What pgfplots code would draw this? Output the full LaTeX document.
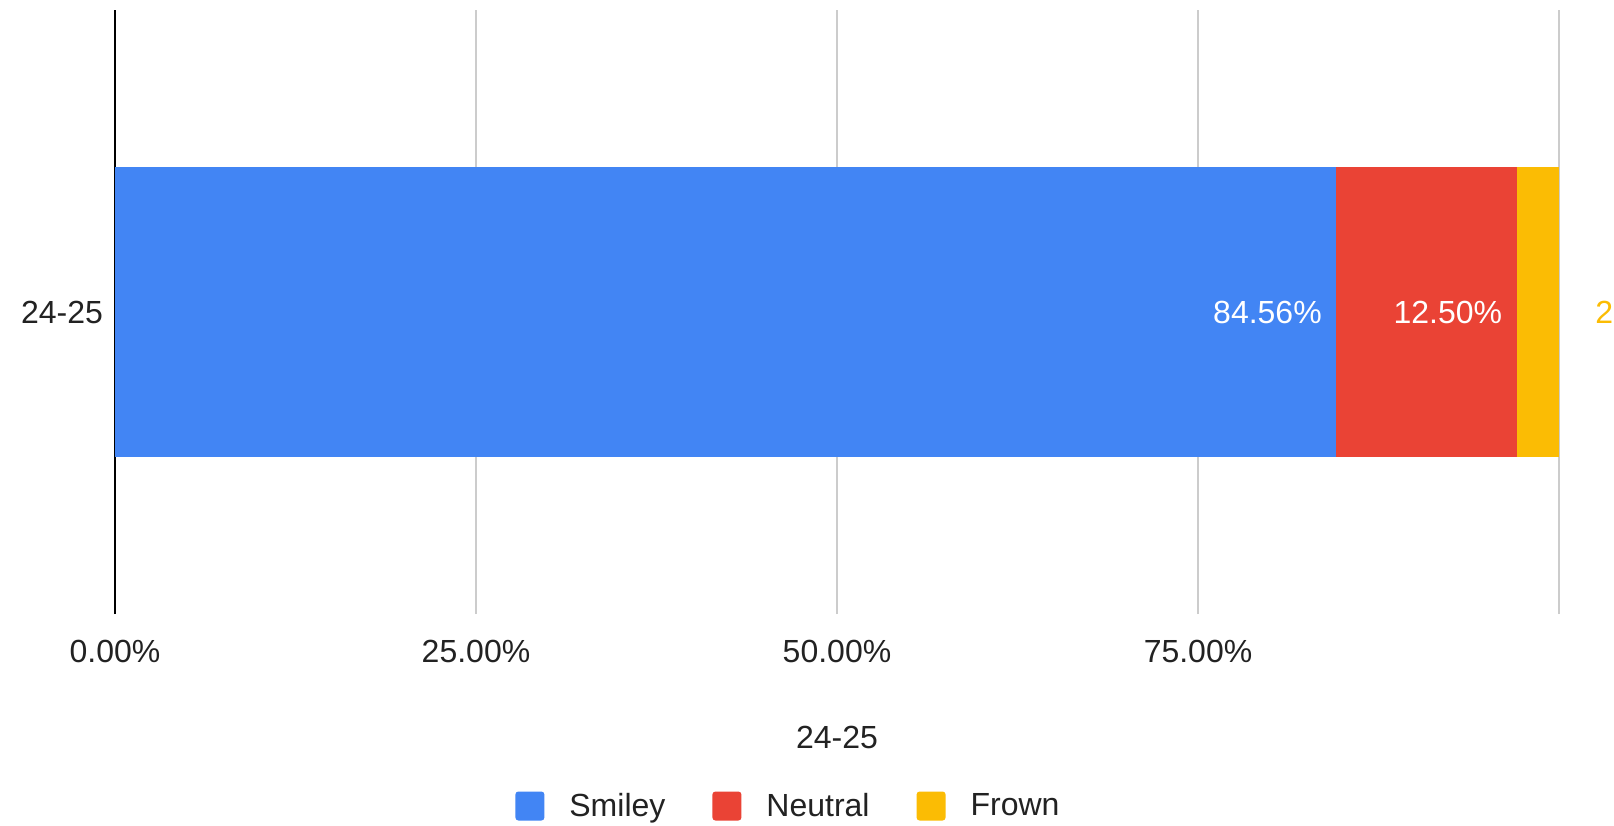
\documentclass[border=0pt]{standalone}
\usepackage{fontspec}
\setmainfont{Liberation Sans}
\usepackage{pgfplots}
\pgfplotsset{compat=1.18}
\definecolor{cblue}{HTML}{4285F4}
\definecolor{cred}{HTML}{EA4335}
\definecolor{cyellow}{HTML}{FBBC04}
\definecolor{cgrid}{HTML}{CCCCCC}
\definecolor{ctext}{HTML}{222222}
\newcommand\cf{\fontsize{16}{19}\selectfont}
\begin{document}
\begin{tikzpicture}
\begin{axis}[
  name=ax,
  scale only axis,
  width=722pt, height=302pt,
  xbar stacked,
  bar width=0.96,
  xmin=0, xmax=100,
  ymin=-1, ymax=1,
  axis line style={draw=none},
  tick style={draw=none},
  xtick={25,50,75,100},
  xticklabels={25.00\%,50.00\%,75.00\%,},
  extra x ticks={0},
  extra x tick labels={0.00\%},
  extra x tick style={grid style={black, line width=0.8pt}},
  xmajorgrids,
  grid style={cgrid, line width=0.8pt},
  ytick={0},
  yticklabels={24-25},
  ticklabel style={font=\cf, text=ctext},
  xticklabel style={yshift=-9.5pt},
  yticklabel style={xshift=-2.5pt},
  xlabel={24-25},
  xlabel style={at={(axis description cs:0.5,0)}, anchor=center, yshift=-61.5pt, font=\cf, text=ctext},
  point meta=explicit symbolic,
  nodes near coords={\pgfplotspointmeta\%},
  every node near coord/.append style={font=\cf, inner sep=0pt},
  legend columns=-1,
  legend style={at={(axis description cs:0,0)}, anchor=west, xshift=200pt, yshift=-96pt, inner sep=0pt, draw=none, font=\cf, text=ctext,
    /tikz/every odd column/.append style={column sep=10.5pt},
    /tikz/every even column/.append style={column sep=21.5pt}},
  legend image code/.code={\fill[#1, rounded corners=1.5pt] (0pt,-7.25pt) rectangle (14.5pt,7.25pt);},
  /pgf/number format/assume math mode=true,
]
\addplot[fill=cblue, draw=none, every node near coord/.append style={anchor=east, xshift=298.3pt, text=white}] coordinates {(84.56,0) [84.56]};
\addlegendentry{Smiley}
\addplot[fill=cred, draw=none, every node near coord/.append style={anchor=east, xshift=38.1pt, text=white}] coordinates {(12.50,0) [12.50]};
\addlegendentry{Neutral}
\addplot[fill=cyellow, draw=none, every node near coord/.append style={anchor=west, xshift=28.6pt, text=cyellow}] coordinates {(2.94,0) [2.94]};
\addlegendentry{Frown}
\end{axis}
\pgfresetboundingbox
\path[use as bounding box] ([xshift=-57.5pt,yshift=-105.5pt]ax.south west) rectangle ([xshift=27.5pt,yshift=5pt]ax.north east);
\end{tikzpicture}
\end{document}
